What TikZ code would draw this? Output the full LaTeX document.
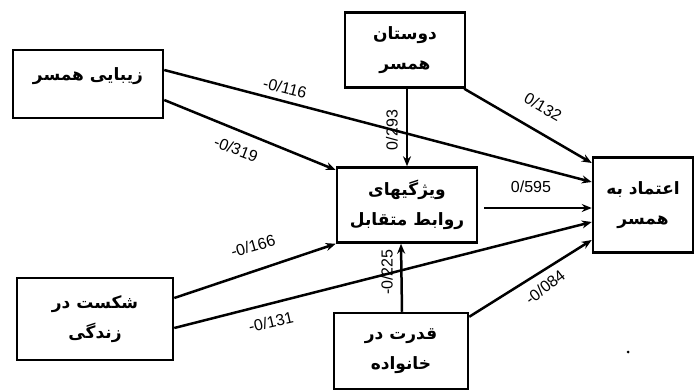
\documentclass[tikz,border=0pt]{standalone}
\usepackage{fontspec}
\setmainfont{Liberation Sans}
\newfontfamily\arabicfont[Script=Arabic]{DejaVu Sans}
\TeXXeTstate=1
\usetikzlibrary{arrows.meta}
\newcommand{\rtltext}[1]{{\arabicfont\bfseries\beginR #1\endR}}
\tikzset{
  box/.style={draw, line width=2.5pt, inner sep=0pt, align=center,
    font=\fontsize{17}{30}\selectfont},
  link/.style={line width=2.5pt, -{Stealth[length=10pt,width=8pt]}},
  coef/.style={font=\fontsize{16}{16}\selectfont, inner sep=0pt}
}
\begin{document}
\begin{tikzpicture}[x=1pt,y=-1pt]
\useasboundingbox (0,0) rectangle (695,391);
% boxes
\node[box, minimum width=150pt, minimum height=68pt] (beauty) at (88,84) {\raisebox{8pt}[\height][\depth]{\rtltext{زیبایی همسر}}};
\node[box, minimum width=120pt, minimum height=75pt] (friends) at (405,50) {\rtltext{دوستان}\\\rtltext{همسر}};
\node[box, minimum width=140pt, minimum height=75pt] (rel) at (407,205) {\rtltext{ویژگیهای}\\\rtltext{روابط متقابل}};
\node[box, minimum width=100pt, minimum height=95pt] (trust) at (643,205) {\rtltext{اعتماد به}\\\rtltext{همسر}};
\node[box, minimum width=156pt, minimum height=82pt] (fail) at (95,319) {\rtltext{شکست در}\\\rtltext{زندگی}};
\node[box, minimum width=134pt, minimum height=76pt] (power) at (401,351) {\rtltext{قدرت در}\\\rtltext{خانواده}};
% paths
\draw[link] ([yshift=14pt]beauty.east) -- ([yshift=23pt]trust.west);
\draw[link] ([yshift=-16pt]beauty.east) -- ([yshift=35pt]rel.west);
\draw[link] ([xshift=2pt]friends.south) -- ([xshift=0pt]rel.north);
\draw[link] ([xshift=-2pt]friends.south east) -- ([yshift=42pt]trust.west);
\draw[link] ([xshift=6pt,yshift=-3pt]rel.east) -- ([yshift=-3pt]trust.west);
\draw[link] ([yshift=21pt]fail.east) -- (rel.south west);
\draw[link] ([yshift=-9pt]fail.east) -- ([yshift=-17pt]trust.west);
\draw[link] ([xshift=1pt]power.north) -- ([xshift=-6pt]rel.south);
\draw[link] ([yshift=-5pt]power.north east) -- ([yshift=-35pt]trust.west);
% coefficients
\node[coef, rotate=-14] (c1) at (285,88) {-0/116};
\node[coef, rotate=-21] (c2) at (236,149) {-0/319};
\node[coef, rotate=90] (c3) at (392,130) {0/293};
\node[coef, rotate=-30] (c4) at (543,107) {0/132};
\node[coef] (c5) at (531,187) {0/595};
\node[coef, rotate=16] (c6) at (253,246) {-0/166};
\node[coef, rotate=13] (c7) at (271,322) {-0/131};
\node[coef, rotate=90] (c8) at (387,272) {-0/225};
\node[coef, rotate=38] (c9) at (545,287) {-0/084};
\fill (628,352) circle (1.5pt);
\end{tikzpicture}
\end{document}
